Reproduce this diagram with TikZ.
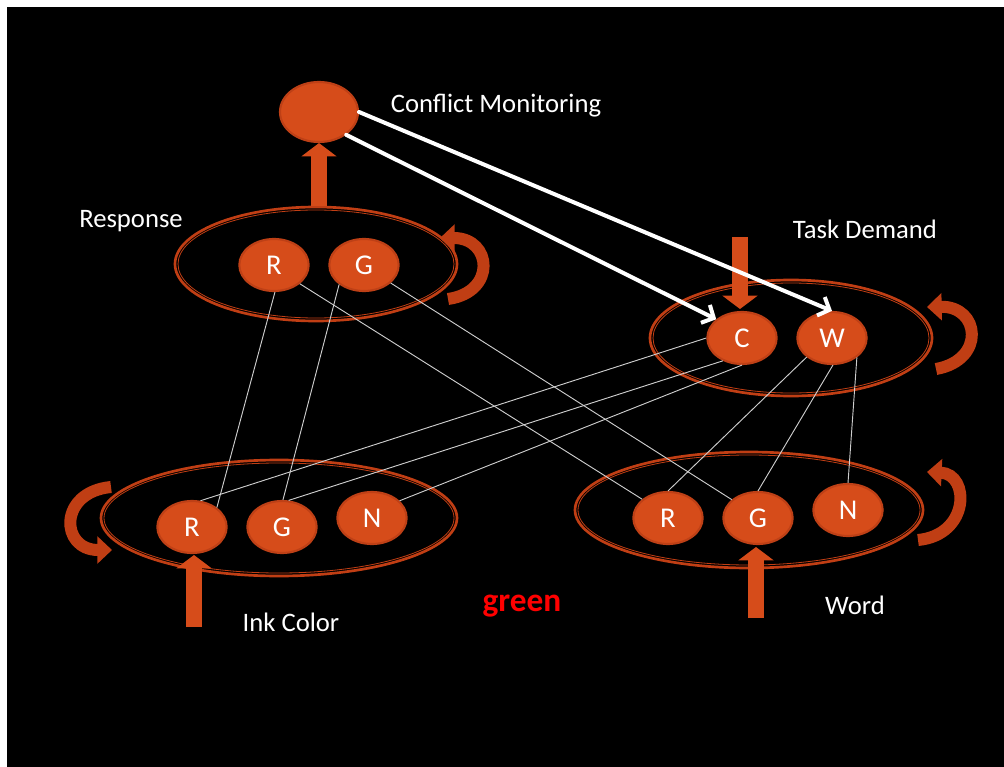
\documentclass[tikz,border=0pt]{standalone}
\usepackage{fontspec}
\setmainfont{Carlito}
\usetikzlibrary{shapes.geometric,arrows.meta}
\definecolor{orfill}{RGB}{214,76,26}
\definecolor{ordk}{RGB}{192,62,20}
\definecolor{ring}{RGB}{190,64,22}
\definecolor{gline}{RGB}{205,205,205}
\begin{document}
\begin{tikzpicture}[x=0.75pt,y=-0.75pt,
  unit/.style={ellipse, fill=orfill, draw=ring, line width=1.6pt, minimum width=52pt, minimum height=39pt, inner sep=0pt, text=white, font=\fontsize{21.5}{24}\selectfont},
  group/.style={ellipse, draw=ordk, line width=2pt, inner sep=0pt},
  lbl/.style={text=white, font=\fontsize{20}{24}\selectfont, inner sep=0pt},
  link/.style={draw=gline, line width=0.7pt},
  ctrl/.style={draw=white, line width=3pt, line cap=round, -{Straight Barb[length=7pt,width=15pt,line width=3pt]}},
  blockarr/.style={draw=orfill, line width=12.5pt, -{Triangle[length=10pt,width=26pt]}},
  curl/.style={draw=ordk, line width=9pt, -{Triangle[length=11pt,width=20pt]}},
  inring/.style={draw=ordk, line width=0.6pt}]
\useasboundingbox (0,0) rectangle (1004,767);
\fill[white] (0,0) rectangle (1004,767);
\fill[black] (7,7) rectangle (1004,767);

% group ellipses
\node[group, minimum width=211.5pt, minimum height=85.5pt] (resp) at (316,264) {};
\node[group, minimum width=211.5pt, minimum height=87pt] (task) at (791,338) {};
\node[group, minimum width=267pt, minimum height=87pt] (ink) at (279,518) {};
\node[group, minimum width=261pt, minimum height=87pt] (word) at (749,510) {};
\draw[inring] (resp.center) ellipse [x radius=138, y radius=54];
\draw[inring] (task.center) ellipse [x radius=138, y radius=55];
\draw[inring] (ink.center) ellipse [x radius=175, y radius=55];
\draw[inring] (word.center) ellipse [x radius=171, y radius=55];

% units
\node[unit, minimum width=58.5pt, minimum height=45pt] (conf) at (319,112) {};
\node[unit] (rR) at (274,265) {R};
\node[unit] (rG) at (364,265) {G};
\node[unit] (tC) at (742,338) {C};
\node[unit] (tW) at (832,338) {W};
\node[unit] (iR) at (192,527) {R};
\node[unit] (iG) at (282,527) {G};
\node[unit] (iN) at (372,518) {N};
\node[unit] (wR) at (668,518) {R};
\node[unit] (wG) at (758,518) {G};
\node[unit] (wN) at (848,510) {N};

% labels
\node[lbl] (lconf) at (496,106) {Conflict Monitoring};
\node[lbl] (lresp) at (131,221) {Response};
\node[lbl] (ltask) at (865,229) {Task Demand};
\node[lbl] (link) at (291,622) {Ink Color};
\node[lbl] (lword) at (855,605) {Word};
\node[text=red, font=\bfseries\fontsize{25}{28}\selectfont, inner sep=0pt] (green) at (522,606) {green};

% gray links
\draw[link] (rR.-88) -- (iR.38);
\draw[link] (rR.-36) -- (wR.144);
\draw[link] (rG.-142) -- (iG.88);
\draw[link] (rG.-34) -- (wG.145);
\draw[link] (tC.180) -- (iR.72);
\draw[link] (tC.-130) -- (iG.76);
\draw[link] (tC.-90) -- (iN.32);
\draw[link] (tW.-143) -- (wR.90);
\draw[link] (tW.-88) -- (wG.90);
\draw[link] (tW.-38) -- (wN.90);

% block arrows
\coordinate (tdin) at (740,237);
\coordinate (inkin) at (194,627);
\coordinate (wordin) at (756,618);
\draw[blockarr] (conf.south |- resp.north) -- (conf.south);
\draw[blockarr] (tdin) -- (740,309);
\draw[blockarr] (inkin) -- (194,555);
\draw[blockarr] (wordin) -- (756,547);

% curled arrows
\draw[curl] (448,299) .. controls (497,292) and (492,238) .. (440,238);
\draw[curl] (936,369) .. controls (986,360) and (980,306) .. (927,307);
\draw[curl] (111,487) .. controls (58,492) and (60,550) .. (112,550);
\draw[curl] (918,540) .. controls (970,535) and (970,474) .. (927,472);

% control arrows
\draw[ctrl] (conf.-40) -- (tC.144);
\draw[ctrl] (conf.0) -- (tW.90);
\end{tikzpicture}
\end{document}
